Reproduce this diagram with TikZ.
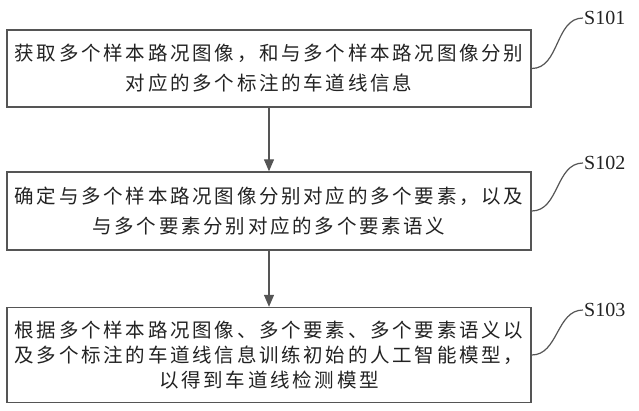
\documentclass[tikz,border=0pt]{standalone}
\usepackage{fontspec}
\setmainfont{Liberation Serif}
\newfontfamily\cjk[LetterSpace=14]{Noto Sans CJK SC}
\usetikzlibrary{arrows.meta,positioning}
\definecolor{boxgray}{HTML}{555555}
\definecolor{inkgray}{HTML}{222222}
\tikzset{
  stepbox/.style={draw=boxgray,line width=1.4pt,minimum width=524pt,align=center,inner sep=0pt,text=inkgray,font=\cjk\fontsize{19.5}{30}\selectfont},
  flowarrow/.style={-{Triangle[length=12pt,width=10pt]},line width=1.2pt,boxgray},
  leader/.style={boxgray,line width=1.2pt},
  steplabel/.style={anchor=west,inner sep=1pt,text=inkgray,font=\fontsize{20}{24}\selectfont}
}

\begin{document}
\begin{tikzpicture}[x=1pt,y=-1pt]
\useasboundingbox (0,0) rectangle (639,410);
\node[stepbox,minimum height=77pt] (stepA) at (269,68.5) {获取多个样本路况图像，和与多个样本路况图像分别\\对应的多个标注的车道线信息};
\node[stepbox,minimum height=78pt] (stepB) at (269,211) {确定与多个样本路况图像分别对应的多个要素，以及\\与多个要素分别对应的多个要素语义};
\node[stepbox,minimum height=95pt,font=\cjk\fontsize{19.5}{25}\selectfont] (stepC) at (269,355) {根据多个样本路况图像、多个要素、多个要素语义以\\及多个标注的车道线信息训练初始的人工智能模型，\\以得到车道线检测模型};
\node[steplabel] (labelA) at (583,18) {S101};
\node[steplabel] (labelB) at (583,163) {S102};
\node[steplabel] (labelC) at (583,310) {S103};
\draw[flowarrow] (stepA) -- (stepB);
\draw[flowarrow] (stepB) -- (stepC);
\draw[leader] (stepA.east) to[out=0,in=180] (labelA.west);
\draw[leader] (stepB.east) to[out=0,in=180] (labelB.west);
\draw[leader] (stepC.east) to[out=0,in=180] (labelC.west);
\end{tikzpicture}
\end{document}
